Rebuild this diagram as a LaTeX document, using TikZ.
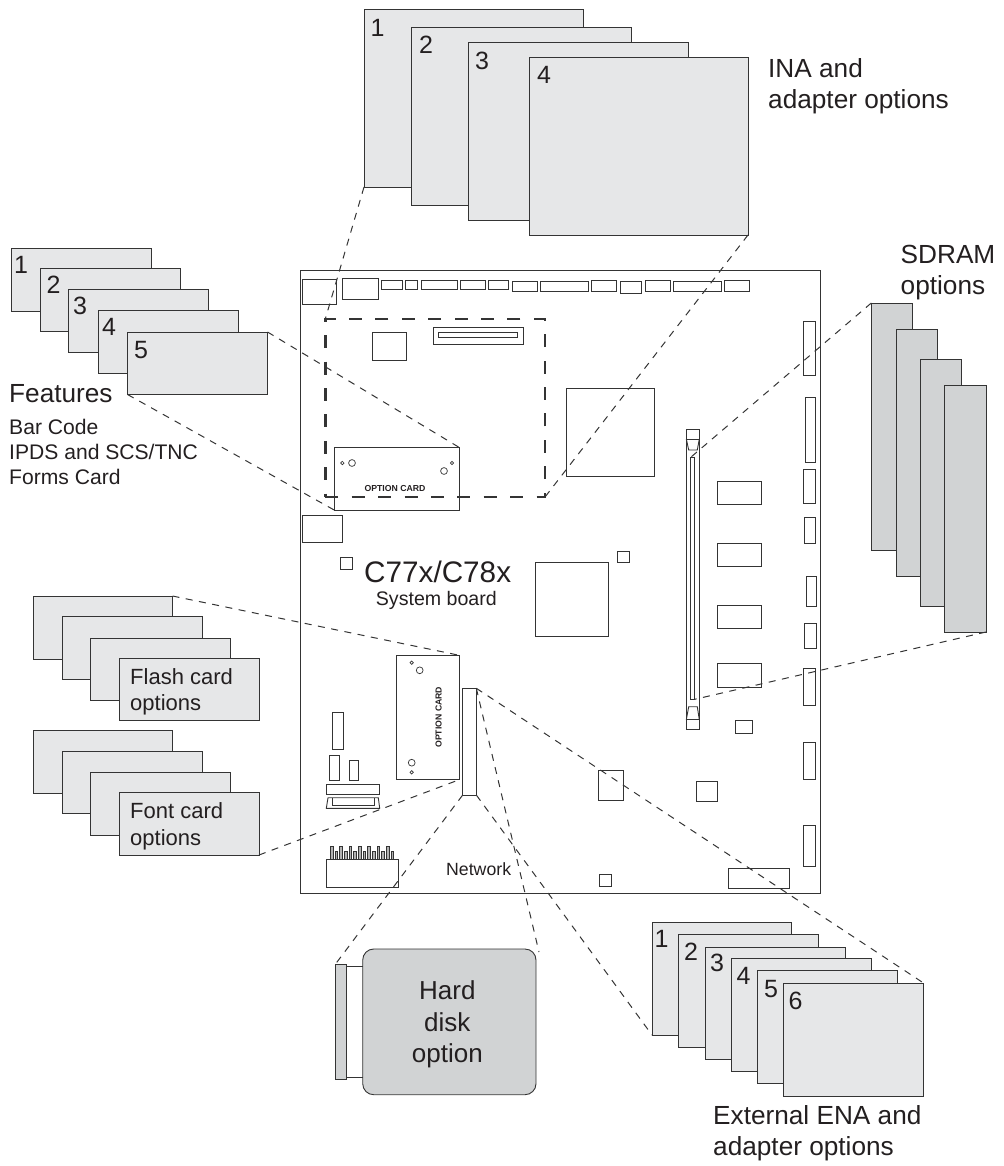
\documentclass[tikz,border=0pt]{standalone}
\usepackage{fontspec}
\setmainfont{Liberation Sans}
\usepackage{xcolor}
\usepackage{tikz}
\definecolor{inkline}{RGB}{52, 52, 52}
\definecolor{inktext}{RGB}{35, 31, 32}
\definecolor{cardgray}{RGB}{230, 231, 232}
\definecolor{darkgray}{RGB}{209, 211, 212}
\begin{document}
\begin{tikzpicture}[x=1pt, y=-1pt,
  part/.style 2 args={rectangle, draw=inkline, line width=0.9pt, inner sep=0pt, outer sep=0pt,
                      anchor=north west, minimum width=#1, minimum height=#2},
  card/.style 2 args={part={#1}{#2}, fill=cardgray},
  stick/.style 2 args={part={#1}{#2}, fill=darkgray},
  leader/.style={draw=inkline, line width=1pt, dash pattern=on 7pt off 6.5pt},
  zone/.style={part={219.7}{178}, line width=2.7pt, dash pattern=on 13pt off 13.4pt},
  hole/.style={draw=inkline, line width=0.7pt},
  biglabel/.style={font=\fontsize{26.2}{31}\selectfont, text=inktext, align=left, anchor=base west, inner sep=0pt},
  midlabel/.style={font=\fontsize{22}{26.4}\selectfont, text=inktext, align=left, anchor=base west, inner sep=0pt},
  smalllabel/.style={font=\fontsize{21.1}{25}\selectfont, text=inktext, align=left, anchor=base west, inner sep=0pt},
  cardnum/.style={font=\fontsize{25}{25}\selectfont, text=inktext, anchor=base west, inner sep=0pt},
  silk/.style={font=\fontsize{8.7}{9}\bfseries\selectfont, text=inktext, inner sep=0pt},
]
\useasboundingbox (0,0) rectangle (1003,1166);
% system board
\node[part={520}{623.7}] (board) at (300,270) {};
\node[part={34}{25}] (top1) at (302,279) {};
\node[part={35.5}{21}] (top2) at (342.5,278) {};
\node[part={21}{9.5}] (top3) at (381.7,280) {};
\node[part={12.4}{9.5}] (top4) at (405.3,280) {};
\node[part={36.7}{9.5}] (top5) at (421,280) {};
\node[part={25}{9.5}] (top6) at (460.3,280) {};
\node[part={20}{9.5}] (top7) at (488.3,280) {};
\node[part={24.7}{10.5}] (top8) at (512.3,281) {};
\node[part={48}{10}] (top9) at (540.7,281) {};
\node[part={25}{11}] (top10) at (591.7,280) {};
\node[part={21.4}{12}] (top11) at (620.3,281) {};
\node[part={25}{11}] (top12) at (645,280) {};
\node[part={48.4}{10}] (top13) at (673.3,281) {};
\node[part={25.4}{11}] (top14) at (724.3,280) {};
\node[part={34.4}{28}] (chipa) at (372.3,332.3) {};
\node[part={90.7}{17}] (slota) at (433,327.3) {};
\node[part={79.4}{4.6}] (slotb) at (438.3,332.7) {};
\node[part={40}{27.4}] (blocka) at (302.7,515.3) {};
\node[part={12}{12}] (sqa) at (340.3,557.7) {};
\node[part={88.7}{88}] (chipb) at (566,388.3) {};
\node[part={72.6}{73.3}] (chipc) at (535.7,562.7) {};
\node[part={12}{11}] (sqb) at (617.3,551.3) {};
\node[part={44.3}{23.3}] (ram1) at (717,481) {};
\node[part={44.3}{23.3}] (ram2) at (717,543) {};
\node[part={44.3}{23.4}] (ram3) at (717,605.3) {};
\node[part={44.3}{23.6}] (ram4) at (717,663.7) {};
\node[part={11.7}{53.7}] (edge1) at (803.3,321.3) {};
\node[part={9.6}{65}] (edge2) at (805.7,397.3) {};
\node[part={11.7}{34}] (edge3) at (803.3,469.3) {};
\node[part={11.3}{25.3}] (edge4) at (804,517.7) {};
\node[part={10}{29.3}] (edge5) at (806.3,576.7) {};
\node[part={11.6}{25}] (edge6) at (804.7,623.3) {};
\node[part={11.7}{37.7}] (edge7) at (803.3,668) {};
\node[part={11.7}{37.7}] (edge8) at (803.3,742) {};
\node[part={11.7}{41.4}] (edge9) at (803.3,825.3) {};
\node[part={61}{20}] (edge10) at (728.3,868.7) {};
\node[part={17.3}{13.7}] (sqc) at (735,720) {};
\node[part={21}{20}] (sqd) at (696.3,781.3) {};
\node[part={25}{29.6}] (sqe) at (598.7,770.7) {};
\node[part={11.3}{12}] (sqf) at (599.7,874.7) {};
\node[part={11.3}{37.7}] (lowa) at (332,712) {};
\node[part={10}{25}] (lowb) at (329.3,755.3) {};
\node[part={9.7}{20.3}] (lowc) at (349,760) {};
\node[part={53}{9.7}] (lowd) at (326.7,784.3) {};
\draw[draw=inkline, line width=0.9pt] (328,797.7) -- (326.3,808.3) -- (379.7,808.3) -- (378.3,797.7) -- cycle;
\draw[draw=inkline, line width=0.9pt] (332.7,797.7) -- (332.7,805) -- (374.3,805) -- (374.3,797.7);
% memory slot
\node[part={13.3}{300}] (memslot) at (686,429.7) {};
\node[part={4}{242}] (meminner) at (690.7,457.3) {};
\draw[draw=inkline, line width=0.9pt] (686,439) -- (699.3,439) (686,719.7) -- (699.3,719.7);
\draw[draw=inkline, line width=0.9pt] (686.3,439) -- (688.7,450) -- (697.3,450) -- (699.3,439);
\draw[draw=inkline, line width=0.9pt] (686.3,719.7) -- (688.7,706.7) -- (697.3,706.7) -- (699.3,719.7);
% pin header
\node[part={72.3}{28}] (header) at (326,859.3) {};
\draw[draw=inkline, fill=gray!60, line width=0.6pt]
  (330.3,846) rectangle ++(2.7,13.3) (335,851.3) rectangle ++(2.7,8) (339.6,846) rectangle ++(2.7,13.3)
  (344.3,851.3) rectangle ++(2.7,8) (349,846) rectangle ++(2.7,13.3) (353.6,851.3) rectangle ++(2.7,8)
  (358.3,846) rectangle ++(2.7,13.3) (363,851.3) rectangle ++(2.7,8) (367.6,846) rectangle ++(2.7,13.3)
  (372.3,851.3) rectangle ++(2.7,8) (377,846) rectangle ++(2.7,13.3) (381.6,851.3) rectangle ++(2.7,8)
  (386.3,846) rectangle ++(2.7,13.3) (391,851.3) rectangle ++(2.7,8);
\node[smalllabel, font=\fontsize{17.7}{20}\selectfont] (netlabel) at (446,875) {Network};
% option cards
\node[part={124.3}{63}] (optflat) at (334.7,447.3) {};
\draw[hole] (342.3,463) circle[radius=1.7] (352,463) circle[radius=3.4];
\draw[hole] (452,463) circle[radius=1.7] (444,471) circle[radius=3.4];
\node[silk] (optflattext) at (395,489) {OPTION CARD};
\node[part={63}{124.4}] (optup) at (396.3,655.3) {};
\draw[hole] (411.7,662.7) circle[radius=1.7] (419.7,670.3) circle[radius=3.4];
\draw[hole] (411.7,762.7) circle[radius=3.4] (411.7,772.3) circle[radius=1.7];
\node[silk, rotate=90] (optuptext) at (438.7,717.3) {OPTION CARD};
\node[part={13.6}{106.7}] (netconn) at (462.7,688.3) {};
\node[zone] (inazone) at (325.3,319) {};
\node[biglabel, font=\fontsize{29.7}{32}\selectfont] (boardname) at (364,582.7) {C77x/C78x};
\node[smalllabel, font=\fontsize{19.6}{22}\selectfont] (boardsub) at (375.7,605.7) {System board};
% INA stack
\node[card={219}{178}] (ina1) at (364,9) {};
\node[card={220}{178}] (ina2) at (411,27) {};
\node[card={220}{178}] (ina3) at (468,42) {};
\node[card={219}{177.5}] (ina4) at (529,57.5) {};
\node[cardnum] (inanum1) at (370.5,36.7) {1};
\node[cardnum] (inanum2) at (419,53.3) {2};
\node[cardnum] (inanum3) at (475,70) {3};
\node[cardnum] (inanum4) at (537,84) {4};
\node[biglabel] (inalabel) at (768,108.3) {INA and\\adapter options};
% features stack
\node[card={140}{63}] (feat1) at (11,248) {};
\node[card={140}{63}] (feat2) at (40.5,268) {};
\node[card={140}{62.5}] (feat3) at (68.5,289.5) {};
\node[card={140}{63}] (feat4) at (98,310) {};
\node[card={140}{62.5}] (feat5) at (127.5,332) {};
\node[cardnum] (featnum1) at (14,273) {1};
\node[cardnum] (featnum2) at (46.5,293) {2};
\node[cardnum] (featnum3) at (73,314) {3};
\node[cardnum] (featnum4) at (102,335) {4};
\node[cardnum] (featnum5) at (134,358) {5};
\node[biglabel] (featlabel) at (9,402) {Features};
\node[smalllabel] (featlist) at (9,484.3) {Bar Code\\IPDS and SCS/TNC\\Forms Card};
% flash and font stacks
\node[card={139.5}{63}] (flash1) at (33,596) {};
\node[card={140}{63}] (flash2) at (62,616) {};
\node[card={140}{62}] (flash3) at (90,638) {};
\node[card={139.5}{62}] (flash4) at (119.5,658) {};
\node[midlabel] (flashlabel) at (130,710.7) {Flash card\\options};
\node[card={139.5}{62.5}] (font1) at (33,730.5) {};
\node[card={140}{62}] (font2) at (62,751) {};
\node[card={140}{63}] (font3) at (90,772) {};
\node[card={139.5}{63}] (font4) at (119.5,792) {};
\node[midlabel] (fontlabel) at (130,845) {Font card\\options};
% SDRAM stack
\node[stick={41}{247}] (sdram1) at (871.3,303) {};
\node[stick={41}{247}] (sdram2) at (896.5,329) {};
\node[stick={41}{247}] (sdram3) at (920,359) {};
\node[stick={41.5}{247}] (sdram4) at (944.5,385) {};
\node[biglabel] (sdramlabel) at (900.5,294) {SDRAM\\options};
% ENA stack
\node[card={139.7}{113}] (ena1) at (652,922) {};
\node[card={139.5}{113}] (ena2) at (678.5,934) {};
\node[card={140}{112.5}] (ena3) at (705,947) {};
\node[card={140}{113}] (ena4) at (731,958) {};
\node[card={140}{113}] (ena5) at (757.5,970.5) {};
\node[card={140}{113}] (ena6) at (783.5,983) {};
\node[cardnum] (enanum1) at (654.5,947.3) {1};
\node[cardnum] (enanum2) at (684,960) {2};
\node[cardnum] (enanum3) at (710,971) {3};
\node[cardnum] (enanum4) at (736.5,984) {4};
\node[cardnum] (enanum5) at (764,997.7) {5};
\node[cardnum] (enanum6) at (788.5,1009) {6};
\node[biglabel] (enalabel) at (713,1155) {External ENA and\\adapter options};
% hard disk
\node[stick={173.3}{145.7}, rounded corners=11pt] (disk) at (362.7,949) {};
\node[biglabel, align=center, anchor=base, font=\fontsize{26}{31.4}\selectfont] (disklabel) at (447.3,1062.7) {Hard\\disk\\option};
\node[stick={11}{114.3}] (diskbar) at (335,964.7) {};
\coordinate (diskup) at (363,966);
\coordinate (disklow) at (363,1077.5);
\coordinate (disktip) at (539,952);
\draw[draw=inkline, line width=0.9pt] (diskbar.north east |- diskup) -- (diskup);
\draw[draw=inkline, line width=0.9pt] (diskbar.north east |- disklow) -- (disklow);
% leaders
\draw[leader] (ina1.south west) -- (inazone.north west);
\draw[leader] (ina4.south east) -- (inazone.south east);
\draw[leader] (feat5.north east) -- (optflat.north east);
\draw[leader] (feat5.south west) -- (optflat.south west);
\draw[leader] (flash1.north east) -- (optup.north east);
\draw[leader] (font4.south east) -- (optup.south east);
\draw[leader] (sdram1.north west) -- (meminner.north west);
\draw[leader] (sdram4.south east) -- (meminner.south east);
\draw[leader] (netconn.north east) -- (ena6.north east);
\draw[leader] (netconn.south east) -- (ena1.south west);
\draw[leader] (netconn.south west) -- (diskbar.north west);
\draw[leader] (netconn.north east) -- (disktip);
\end{tikzpicture}
\end{document}
